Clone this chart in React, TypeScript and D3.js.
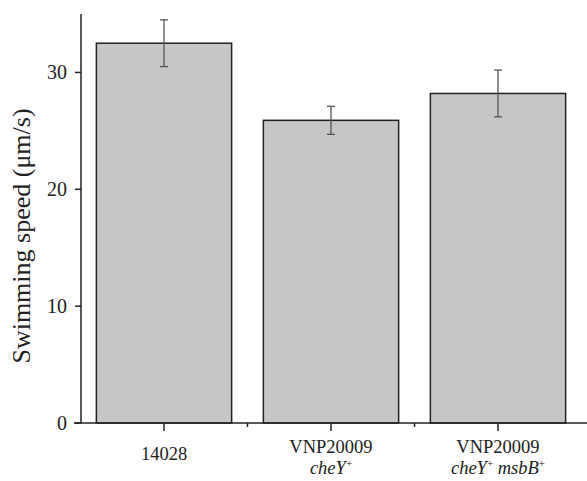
import React from "react";
import * as d3 from "d3";

const categories = ["14028", "VNP20009 cheY+", "VNP20009 cheY+ msbB+"];
const means = [32.5, 25.9, 28.2];
const errors = [2.0, 1.2, 2.0];
const yTicks = [0, 10, 20, 30];

const W = 587;
const H = 481;
const left = 81;
const bottom = 423;
const top = 14;

export default function App() {
  const x = d3.scaleBand<string>().domain(categories).range([80.5, 581.5]).paddingInner(0.19).paddingOuter(0.095);
  const y = d3.scaleLinear().domain([0, 35]).range([bottom, top]);
  const bw = x.bandwidth();
  const serif = "'Liberation Serif', 'Times New Roman', serif";
  const boundaries = categories.map((c) => (x(c) as number) - (x.step() - bw) / 2).slice(1);
  const fs = 18.5;

  return (
    <svg width={W} height={H} style={{ position: "absolute", left: 0, top: 0, background: "#fff" }} fontFamily={serif}>
      {categories.map((c, i) => (
        <g key={c}>
          <rect x={x(c)} y={y(means[i])} width={bw} height={bottom - y(means[i])} fill="#c6c6c6" stroke="#222" strokeWidth={1.5} />
          <g stroke="#555" strokeWidth={1.3}>
            <line x1={(x(c) as number) + bw / 2} x2={(x(c) as number) + bw / 2} y1={y(means[i] + errors[i])} y2={y(means[i] - errors[i])} />
            <line x1={(x(c) as number) + bw / 2 - 4} x2={(x(c) as number) + bw / 2 + 4} y1={y(means[i] + errors[i])} y2={y(means[i] + errors[i])} />
            <line x1={(x(c) as number) + bw / 2 - 4} x2={(x(c) as number) + bw / 2 + 4} y1={y(means[i] - errors[i])} y2={y(means[i] - errors[i])} />
          </g>
        </g>
      ))}
      {/* y axis */}
      <line x1={left} x2={left} y1={top} y2={bottom} stroke="#222" strokeWidth={1.5} />
      {yTicks.map((t) => (
        <g key={t}>
          <line x1={left - 6} x2={left} y1={y(t)} y2={y(t)} stroke="#222" strokeWidth={1.5} />
          <text x={67} y={y(t)} dy="0.35em" textAnchor="end" fontSize={20} fill="#222">{t}</text>
        </g>
      ))}
      {/* x axis */}
      <line x1={74} x2={W} y1={bottom} y2={bottom} stroke="#222" strokeWidth={1.5} />
      {categories.map((c) => (
        <line key={c} x1={(x(c) as number) + bw / 2} x2={(x(c) as number) + bw / 2} y1={bottom} y2={bottom + 8} stroke="#222" strokeWidth={1.5} />
      ))}
      {boundaries.map((b, i) => (
        <line key={i} x1={b} x2={b} y1={bottom} y2={bottom + 4} stroke="#222" strokeWidth={1.5} />
      ))}
      {/* category labels */}
      <text x={(x(categories[0]) as number) + bw / 2} y={460} textAnchor="middle" fontSize={fs} fill="#222">14028</text>
      <text x={(x(categories[1]) as number) + bw / 2} y={452.5} textAnchor="middle" fontSize={fs} fill="#222">VNP20009</text>
      <text x={(x(categories[1]) as number) + bw / 2} y={473.5} textAnchor="middle" fontSize={fs} fill="#222">
        <tspan fontStyle="italic">cheY</tspan>
        <tspan fontSize={11} dy={-7}>+</tspan>
      </text>
      <text x={(x(categories[2]) as number) + bw / 2} y={452.5} textAnchor="middle" fontSize={fs} fill="#222">VNP20009</text>
      <text x={(x(categories[2]) as number) + bw / 2} y={473.5} textAnchor="middle" fontSize={fs} fill="#222">
        <tspan fontStyle="italic">cheY</tspan>
        <tspan fontSize={11} dy={-7}>+</tspan>
        <tspan dy={7}>{"\u00a0"}</tspan>
        <tspan fontStyle="italic">msbB</tspan>
        <tspan fontSize={11} dy={-7}>+</tspan>
      </text>
      {/* y title */}
      <text transform={`translate(30, 236) rotate(-90)`} textAnchor="middle" fontSize={26} fill="#222">Swimming speed (μm/s)</text>
    </svg>
  );
}
